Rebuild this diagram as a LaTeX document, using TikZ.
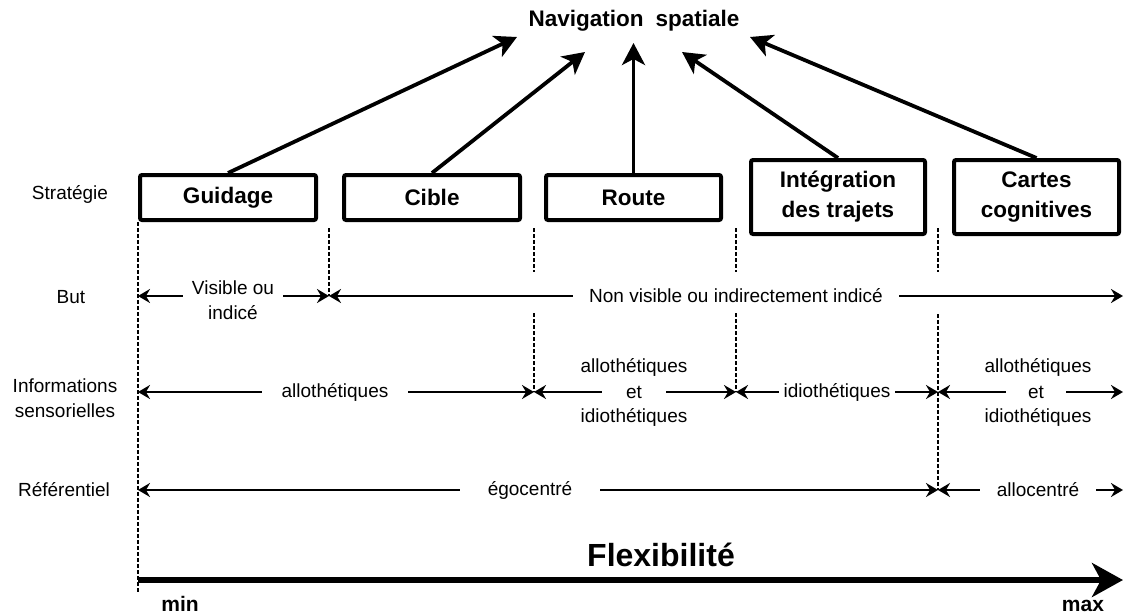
\documentclass[tikz,border=0pt]{standalone}
\usepackage{fontspec}
\setmainfont{Liberation Sans}
\usetikzlibrary{arrows.meta}
\begin{document}
\begin{tikzpicture}[x=1pt,y=-1pt,
  box/.style={draw, line width=4pt, rounded corners=2pt, inner sep=0pt, align=center,
    font=\fontsize{22.5}{30}\selectfont\bfseries},
  lbl/.style={font=\fontsize{19}{25}\selectfont, align=center, inner sep=0pt},
  gaptext/.style={lbl, fill=white, inner ysep=3pt},
  navarrow/.style={line width=3.8pt, -{Stealth[length=22pt,width=23pt,inset=6pt]}},
  rowarrow/.style={line width=2pt,
    {Stealth[length=12pt,width=14pt,inset=4pt]}-{Stealth[length=12pt,width=14pt,inset=4pt]}},
  guide/.style={line width=1.3pt, dash pattern=on 4pt off 2pt},
]
\useasboundingbox (0,0) rectangle (1124,615);

% title
\node[font=\fontsize{22.5}{27}\selectfont\bfseries, inner sep=0pt] (nav) at (634,21) {Navigation\hspace{12pt}spatiale};

% strategy boxes
\node[box, minimum width=176pt, minimum height=45pt] (guidage) at (228,197.5) {Guidage};
\node[box, minimum width=176pt, minimum height=45pt] (cible) at (432,197.5) {Cible};
\node[box, minimum width=175pt, minimum height=45pt] (route) at (633.5,197.5) {Route};
\node[box, minimum width=174pt, minimum height=74pt] (integ) at (838,197) {Intégration\\des trajets};
\node[box, minimum width=165pt, minimum height=74pt] (cartes) at (1036.5,197) {Cartes\\cognitives};

% arrow tips near the title
\coordinate (t1) at (517,37);
\coordinate (t2) at (585,52);
\coordinate (t3) at (633.5,43);
\coordinate (t4) at (682,52);
\coordinate (t5) at (750,37);
\draw[navarrow] (guidage.north) -- (t1);
\draw[navarrow] (cible.north) -- (t2);
\draw[navarrow] (route.north) -- (t3);
\draw[navarrow] (integ.north) -- (t4);
\draw[navarrow] (cartes.north) -- (t5);

% dashed guides
\draw[guide] (138,222) -- (138,592);
\draw[guide] (329,228) -- (329,296);
\draw[guide] (534,228) -- (534,272) (534,313) -- (534,392);
\draw[guide] (736,228) -- (736,272) (736,313) -- (736,392);
\draw[guide] (938,228) -- (938,272) (938,314) -- (938,490);

% row labels
\node[lbl] (lstrat) at (70,194) {Stratégie};
\node[lbl] (lbut) at (71,297) {But};
\node[lbl] (linfo) at (65,398) {Informations\\sensorielles};
\node[lbl] (lref) at (64,490) {Référentiel};

% But row
\coordinate (b0) at (138,296);
\coordinate (b1) at (329,296);
\coordinate (b2) at (1123,296);
\draw[rowarrow] (b0) -- (b1);
\draw[rowarrow] (b1) -- (b2);
\node[gaptext, inner xsep=9pt] (tvis) at (233,300.5) {Visible ou\\indicé};
\node[gaptext, inner xsep=16pt] (tnonvis) at (736,296) {Non visible ou indirectement indicé};

% Informations row
\coordinate (i0) at (138,392);
\coordinate (i1) at (534,392);
\coordinate (i2) at (736,392);
\coordinate (i3) at (938,392);
\coordinate (i4) at (1123,392);
\draw[rowarrow] (i0) -- (i1);
\draw[rowarrow] (i1) -- (i2);
\draw[rowarrow] (i2) -- (i3);
\draw[rowarrow] (i3) -- (i4);
\node[gaptext, inner xsep=20pt] (tallo1) at (335,392) {allothétiques};
\node[lbl] (tallo2a) at (634,367) {allothétiques};
\node[gaptext, inner xsep=24pt] (tallo2b) at (634,392) {et};
\node[lbl] (tallo2c) at (634,417) {idiothétiques};
\node[gaptext, inner xsep=5pt] (tidio) at (837,392) {idiothétiques};
\node[lbl] (tallo4a) at (1038,367) {allothétiques};
\node[gaptext, inner xsep=22pt] (tallo4b) at (1036,392) {et};
\node[lbl] (tallo4c) at (1038,417) {idiothétiques};

% Referentiel row
\coordinate (r0) at (138,490);
\coordinate (r1) at (938,490);
\coordinate (r2) at (1123,490);
\draw[rowarrow] (r0) -- (r1);
\draw[rowarrow] (r1) -- (r2);
\node[gaptext, inner xsep=28pt] (tego) at (530,490) {égocentré};
\node[gaptext, inner xsep=17pt] (tallocentre) at (1038,490) {allocentré};

% flexibility axis
\coordinate (fmin) at (138,580);
\coordinate (fmax) at (1123,580);
\draw[line width=6.5pt, -{Stealth[length=31pt,width=34pt,inset=9pt]}] (fmin) -- (fmax);
\node[font=\fontsize{32}{36}\selectfont\bfseries, inner sep=0pt] (flex) at (661,555) {Flexibilité};
\node[font=\fontsize{21}{24}\selectfont\bfseries, inner sep=0pt, anchor=base] (tmin) at (180,611) {min};
\node[font=\fontsize{21}{24}\selectfont\bfseries, inner sep=0pt, anchor=base] (tmax) at (1083,611) {max};
\end{tikzpicture}
\end{document}
